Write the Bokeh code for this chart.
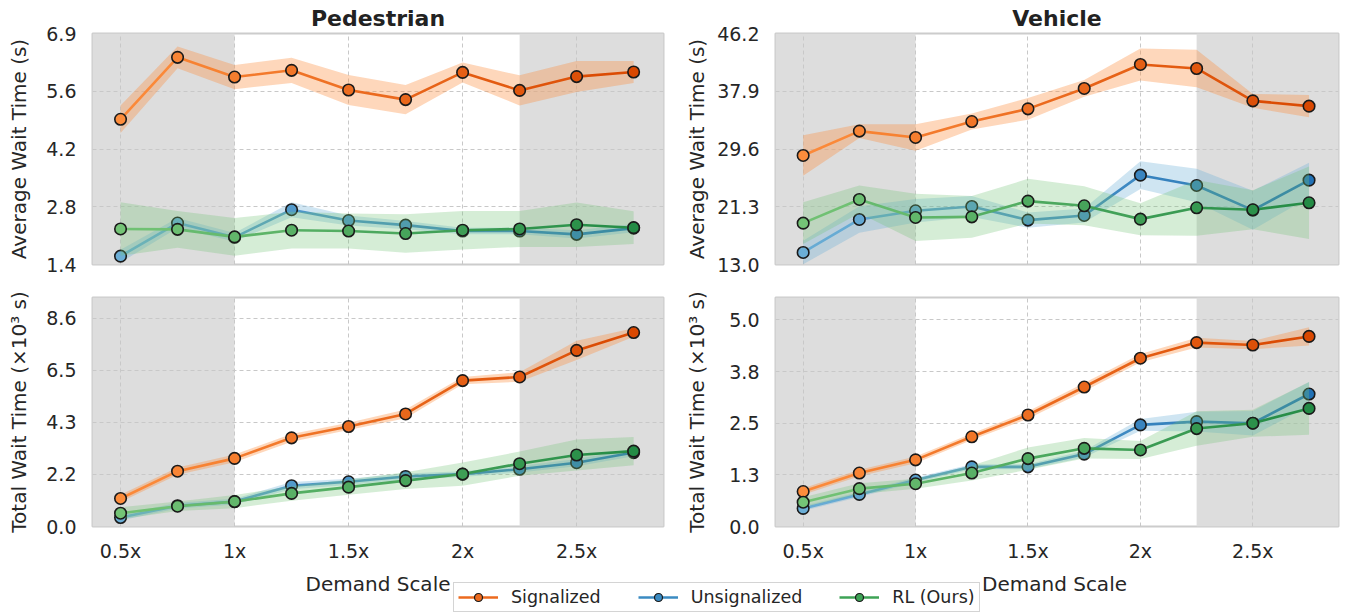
import numpy as np
from bokeh.plotting import figure
from bokeh.models import Range1d, FixedTicker, BoxAnnotation, Legend, LegendItem
from bokeh.layouts import column, row
from bokeh.embed import file_html
from bokeh.resources import INLINE
from bokeh.core.properties import value

# ---------------- data ----------------
demand = [0.5, 0.75, 1.0, 1.25, 1.5, 1.75, 2.0, 2.25, 2.5, 2.75]
x_ticks = [0.5, 1.0, 1.5, 2.0, 2.5]
x_tick_labels = ["0.5x", "1x", "1.5x", "2x", "2.5x"]
x_label = "Demand Scale"
series_names = ["Signalized", "Unsignalized", "RL (Ours)"]
panel_titles = ["Pedestrian", "Vehicle"]
y_labels = ["Average Wait Time (s)", "Total Wait Time (×10³ s)"]

ped_avg_sig = [4.89, 6.37, 5.90, 6.06, 5.59, 5.36, 6.01, 5.58, 5.91, 6.02]
ped_avg_sig_err = [0.33, 0.26, 0.29, 0.30, 0.36, 0.35, 0.24, 0.36, 0.37, 0.26]
ped_avg_uns = [1.62, 2.41, 2.07, 2.73, 2.47, 2.36, 2.22, 2.22, 2.14, 2.29]
ped_avg_uns_err = [0.15, 0.12, 0.10, 0.18, 0.12, 0.10, 0.08, 0.08, 0.10, 0.10]
ped_avg_rl = [2.27, 2.26, 2.08, 2.24, 2.22, 2.16, 2.24, 2.27, 2.37, 2.30]
ped_avg_rl_err = [0.64, 0.44, 0.45, 0.44, 0.42, 0.46, 0.46, 0.43, 0.53, 0.39]

veh_avg_sig = [28.67, 32.17, 31.26, 33.55, 35.37, 38.30, 41.75, 41.17, 36.52, 35.76]
veh_avg_sig_err = [2.9, 1.0, 1.9, 1.15, 1.55, 1.2, 2.3, 2.7, 1.0, 1.6]
veh_avg_uns = [14.73, 19.47, 20.72, 21.34, 19.38, 20.05, 25.84, 24.36, 20.81, 25.12]
veh_avg_uns_err = [1.7, 1.9, 1.7, 1.5, 1.1, 1.0, 2.0, 2.4, 2.8, 2.5]
veh_avg_rl = [18.94, 22.35, 19.76, 19.85, 22.11, 21.44, 19.52, 21.15, 20.86, 21.87]
veh_avg_rl_err = [3.0, 2.0, 3.4, 3.0, 3.2, 2.8, 2.3, 4.0, 2.8, 5.2]

ped_tot_sig = [1.16, 2.29, 2.82, 3.67, 4.14, 4.66, 6.04, 6.19, 7.29, 8.03]
ped_tot_sig_err = [0.15, 0.15, 0.16, 0.16, 0.15, 0.18, 0.15, 0.20, 0.40, 0.18]
ped_tot_uns = [0.37, 0.86, 1.03, 1.69, 1.85, 2.07, 2.17, 2.37, 2.64, 3.06]
ped_tot_uns_err = [0.12, 0.12, 0.12, 0.15, 0.13, 0.12, 0.12, 0.13, 0.15, 0.15]
ped_tot_rl = [0.55, 0.84, 1.03, 1.37, 1.63, 1.90, 2.17, 2.60, 2.96, 3.12]
ped_tot_rl_err = [0.25, 0.20, 0.27, 0.30, 0.32, 0.35, 0.48, 0.50, 0.64, 0.58]

veh_tot_sig = [0.85, 1.30, 1.62, 2.18, 2.71, 3.39, 4.09, 4.47, 4.41, 4.62]
veh_tot_sig_err = [0.08, 0.08, 0.08, 0.08, 0.09, 0.10, 0.10, 0.12, 0.10, 0.22]
veh_tot_uns = [0.44, 0.78, 1.13, 1.45, 1.45, 1.76, 2.47, 2.55, 2.51, 3.22]
veh_tot_uns_err = [0.06, 0.06, 0.06, 0.06, 0.06, 0.08, 0.14, 0.24, 0.30, 0.29]
veh_tot_rl = [0.59, 0.92, 1.04, 1.30, 1.65, 1.90, 1.86, 2.38, 2.51, 2.87]
veh_tot_rl_err = [0.12, 0.13, 0.12, 0.18, 0.27, 0.25, 0.22, 0.42, 0.33, 0.64]

ped_avg_lim = (1.42, 6.94)
ped_avg_ticks = [1.42, 2.80, 4.18, 5.56, 6.94]
ped_avg_tick_labels = ["1.4", "2.8", "4.2", "5.6", "6.9"]
veh_avg_lim = (13.0, 46.2)
veh_avg_ticks = [13.0, 21.3, 29.6, 37.9, 46.2]
veh_avg_tick_labels = ["13.0", "21.3", "29.6", "37.9", "46.2"]
ped_tot_lim = (0.0, 9.48)
ped_tot_ticks = [0.0, 2.155, 4.31, 6.465, 8.62]
ped_tot_tick_labels = ["0.0", "2.2", "4.3", "6.5", "8.6"]
veh_tot_lim = (0.0, 5.566)
veh_tot_ticks = [0.0, 1.255, 2.51, 3.765, 5.02]
veh_tot_tick_labels = ["0.0", "1.3", "2.5", "3.8", "5.0"]

low_region_end = 1.0
high_region_start = 2.25

# ---------------- style ----------------
FONT = "DejaVu Sans"
TXT = "#262626"
color_ramps = [("#fd8d3c", "#d94801"), ("#6baed6", "#2171b5"), ("#74c476", "#238b45")]
band_colors = ["#fd8d3c", "#6baed6", "#74c476"]
band_alphas = [0.35, 0.32, 0.3]
legend_colors = ["#ec6a1e", "#3b8bc2", "#3ea356"]


def ramp(c0, c1, n):
    a = np.array([int(c0[i:i + 2], 16) for i in (1, 3, 5)], float)
    b = np.array([int(c1[i:i + 2], 16) for i in (1, 3, 5)], float)
    out = []
    for t in np.linspace(0, 1, n):
        c = np.round(a + (b - a) * t).astype(int)
        out.append("#%02x%02x%02x" % tuple(c))
    return out


def make_panel(title, ylabel, lim, ticks, tick_labels, series, width, height,
               bl, br, bt, bb, show_x, label_standoff):
    p = figure(width=width, height=height, x_range=Range1d(0.377, 2.881),
               y_range=Range1d(lim[0], lim[1]), output_backend="svg",
               toolbar_location=None, min_border_left=bl, min_border_right=br,
               min_border_top=bt, min_border_bottom=bb)
    if title:
        p.title.text = title
        p.title.align = "center"
        p.title.text_font = FONT
        p.title.text_font_size = "22px"
        p.title.text_font_style = "bold"
        p.title.text_color = "#222222"
        p.title.standoff = 6
        p.title.offset = 0
    p.background_fill_color = "white"
    p.border_fill_color = "white"
    p.outline_line_color = "#cccccc"
    p.outline_line_width = 2

    xt = FixedTicker(ticks=x_ticks)
    p.xaxis.ticker = xt
    p.xgrid.ticker = xt
    p.xaxis.major_label_overrides = {t: l for t, l in zip(x_ticks, x_tick_labels)}
    yt = FixedTicker(ticks=ticks)
    p.yaxis.ticker = yt
    p.ygrid.ticker = yt
    p.yaxis.major_label_overrides = {t: l for t, l in zip(ticks, tick_labels)}
    for ax in p.axis:
        ax.axis_line_color = None
        ax.major_tick_line_color = None
        ax.minor_tick_line_color = None
        ax.major_tick_out = 0
        ax.major_tick_in = 0
        ax.major_label_text_font = FONT
        ax.major_label_text_font_size = "19px"
        ax.major_label_text_color = TXT
    p.yaxis.major_label_standoff = 16
    p.yaxis.axis_label = ylabel
    p.yaxis.axis_label_text_font = FONT
    p.yaxis.axis_label_text_font_size = "20px"
    p.yaxis.axis_label_text_font_style = "normal"
    p.yaxis.axis_label_text_color = TXT
    p.yaxis.axis_label_standoff = label_standoff
    p.xaxis.major_label_standoff = 13
    if not show_x:
        p.xaxis.visible = False
    for g in (p.xgrid, p.ygrid):
        g.grid_line_color = "#c8c8c8"
        g.grid_line_dash = "4 3"
        g.grid_line_width = 1

    p.add_layout(BoxAnnotation(right=low_region_end, fill_color="#dddddd",
                               fill_alpha=1.0, line_color=None, level="image"))
    p.add_layout(BoxAnnotation(left=high_region_start, fill_color="#dddddd",
                               fill_alpha=1.0, line_color=None, level="image"))

    for k, (y, err) in enumerate(series):
        y = np.array(y, float)
        e = np.array(err, float)
        p.varea(x=demand, y1=y - e, y2=y + e, fill_color=band_colors[k],
                fill_alpha=band_alphas[k])
        pts = ramp(color_ramps[k][0], color_ramps[k][1], len(demand))
        segc = ramp(color_ramps[k][0], color_ramps[k][1], 2 * len(demand) - 1)[1::2]
        p.segment(x0=demand[:-1], y0=y[:-1], x1=demand[1:], y1=y[1:],
                  line_color=segc, line_width=2.6, line_cap="round")
        p.scatter(x=demand, y=y, size=11.5, fill_color=pts, line_color="#1a1a1a",
                  line_width=1.6)
    return p


tl = make_panel(panel_titles[0], y_labels[0], ped_avg_lim, ped_avg_ticks, ped_avg_tick_labels,
                [(ped_avg_sig, ped_avg_sig_err), (ped_avg_uns, ped_avg_uns_err), (ped_avg_rl, ped_avg_rl_err)],
                682, 280, 92, 19, 33, 16, False, 12)
tr = make_panel(panel_titles[1], y_labels[0], veh_avg_lim, veh_avg_ticks, veh_avg_tick_labels,
                [(veh_avg_sig, veh_avg_sig_err), (veh_avg_uns, veh_avg_uns_err), (veh_avg_rl, veh_avg_rl_err)],
                664, 280, 88, 8, 33, 16, False, 5)
bl_ = make_panel(None, y_labels[1], ped_tot_lim, ped_tot_ticks, ped_tot_tick_labels,
                 [(ped_tot_sig, ped_tot_sig_err), (ped_tot_uns, ped_tot_uns_err), (ped_tot_rl, ped_tot_rl_err)],
                 682, 284, 92, 19, 17, 36, True, 12)
br_ = make_panel(None, y_labels[1], veh_tot_lim, veh_tot_ticks, veh_tot_tick_labels,
                 [(veh_tot_sig, veh_tot_sig_err), (veh_tot_uns, veh_tot_uns_err), (veh_tot_rl, veh_tot_rl_err)],
                 664, 284, 88, 8, 17, 36, True, 17)

# legend strip (also carries the shared x-axis titles)
LW, LH = 1346, 49
lf = figure(width=LW, height=LH, x_range=Range1d(0, LW), y_range=Range1d(0, LH),
            min_border=0, output_backend="svg", toolbar_location=None)
lf.axis.visible = False
lf.grid.visible = False
lf.outline_line_color = None
lf.background_fill_color = "white"
lf.border_fill_color = "white"
lf.text(x=[377.5, 1054], y=[30, 30], text=[x_label, x_label], text_font=value(FONT),
        text_font_size="20px", text_align="center", text_baseline="alphabetic",
        text_color=TXT)
items = []
for k, name in enumerate(series_names):
    rl = lf.line(x=[np.nan, np.nan], y=[np.nan, np.nan], line_color=legend_colors[k],
                 line_width=2.6)
    rs = lf.scatter(x=[np.nan], y=[np.nan], size=8.5, fill_color=legend_colors[k],
                    line_color="#1a1a1a", line_width=1.2)
    items.append(LegendItem(label=name, renderers=[rl, rs]))
leg = Legend(items=items, orientation="horizontal", location=(453, 1),
             label_text_font=FONT, label_text_font_size="17.5px", label_text_color=TXT,
             glyph_width=40, glyph_height=20, label_height=20, label_standoff=13,
             spacing=37, padding=4, margin=0, border_line_color="#aaaaaa",
             border_line_width=1.2, background_fill_color="white", background_fill_alpha=1.0)
lf.add_layout(leg, "center")

layout = column(row(tl, tr), row(bl_, br_), lf)
open("out.html", "w").write(file_html(layout, INLINE))
